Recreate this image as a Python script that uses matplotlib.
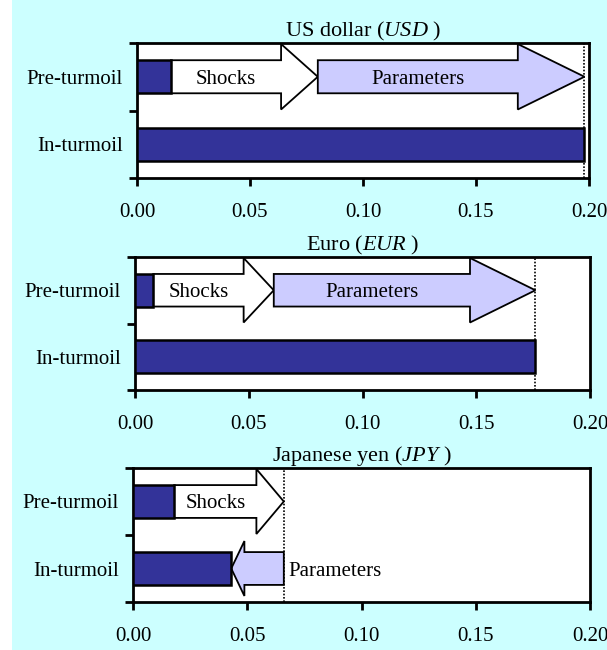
import matplotlib
matplotlib.use("Agg")
import matplotlib.pyplot as plt
from matplotlib.patches import FancyArrow, Rectangle
from matplotlib.ticker import FormatStrFormatter, FixedLocator

plt.rcParams["font.family"] = ["Liberation Serif", "DejaVu Serif"]
plt.rcParams["mathtext.fontset"] = "custom"
plt.rcParams["mathtext.rm"] = "Liberation Serif"
plt.rcParams["mathtext.it"] = "Liberation Serif:italic"

# --- data ---
currencies = ["US dollar", "Euro", "Japanese yen"]
codes = ["USD", "EUR", "JPY"]
categories = ["In-turmoil", "Pre-turmoil"]
pre_turmoil = [0.015, 0.008, 0.018]
after_shocks = [0.080, 0.061, 0.066]
in_turmoil = [0.198, 0.176, 0.043]
param_row = [1, 1, 0]          # row on which the "Parameters" arrow sits
xticks = [0.00, 0.05, 0.10, 0.15, 0.20]

navy = "#333399"
lavender = "#CCCCFF"
cyan = "#CCFFFF"

W, H = 607, 650
fig = plt.figure(figsize=(W / 100, H / 100), dpi=100)
fig.patches.append(Rectangle((12 / W, 0), 1 - 12 / W, 1, transform=fig.transFigure,
                             facecolor=cyan, edgecolor="none", zorder=-10))

# axes boxes in pixels: left, top, right, bottom
boxes = [(137, 43, 589, 178), (135, 257, 590, 390), (133, 468, 590, 602)]

bar_h = 0.49
fs = 15

for i, (l, t, r, b) in enumerate(boxes):
    ax = fig.add_axes([l / W, 1 - b / H, (r - l) / W, (b - t) / H])
    ax.set_facecolor("white")
    ax.set_xlim(0, 0.2)
    ax.set_ylim(-0.5, 1.5)

    # solid bars
    ax.barh([1, 0], [pre_turmoil[i], in_turmoil[i]], height=bar_h,
            color=navy, edgecolor="black", linewidth=1.8, zorder=3)

    # shocks arrow on the pre-turmoil row
    x0, x1 = pre_turmoil[i], after_shocks[i]
    hl = 0.25 * (x1 - x0)
    hw = 0.97 if abs(x1 - x0) > 0.03 else 0.82
    ax.add_patch(FancyArrow(x0, 1, x1 - x0, 0, width=bar_h, head_width=hw,
                            head_length=hl, length_includes_head=True,
                            facecolor="white", edgecolor="black", linewidth=1.3, zorder=2))
    ax.text((x0 + x1 - hl) / 2, 1, "Shocks", ha="center", va="center_baseline",
            fontsize=fs, zorder=4)

    # parameters arrow
    x0, x1 = after_shocks[i], in_turmoil[i]
    row = param_row[i]
    hl = 0.25 * abs(x1 - x0)
    hw = 0.97 if abs(x1 - x0) > 0.03 else 0.82
    ax.add_patch(FancyArrow(x0, row, x1 - x0, 0, width=bar_h, head_width=hw,
                            head_length=hl, length_includes_head=True,
                            facecolor=lavender, edgecolor="black", linewidth=1.3, zorder=2))
    if x1 > x0:
        ax.text((x0 + x1 - hl) / 2, row, "Parameters", ha="center", va="center_baseline",
                fontsize=fs, zorder=4)
    else:
        ax.text(x0 + 0.002, row, "Parameters", ha="left", va="center_baseline",
                fontsize=fs, zorder=4)

    # dotted reference line
    ax.axvline(max(after_shocks[i], in_turmoil[i]), color="black", linestyle=(0, (1, 1)),
               linewidth=1.2, zorder=1)

    ax.set_title(currencies[i] + r" ($\mathit{" + codes[i] + r"}$ )", fontsize=16, pad=5)

    ax.set_xticks(xticks)
    ax.xaxis.set_major_formatter(FormatStrFormatter("%.2f"))
    ax.set_yticks([0, 1])
    ax.set_yticklabels(categories)
    ax.yaxis.set_minor_locator(FixedLocator([-0.5, 0.5, 1.5]))
    ax.tick_params(axis="x", direction="out", length=6, width=2, labelsize=fs, pad=12)
    ax.tick_params(axis="y", which="major", length=0, labelsize=fs, pad=10)
    ax.tick_params(axis="y", which="minor", direction="out", length=6, width=2)
    for s in ax.spines.values():
        s.set_linewidth(2)

fig.savefig("out.png", dpi=100)
